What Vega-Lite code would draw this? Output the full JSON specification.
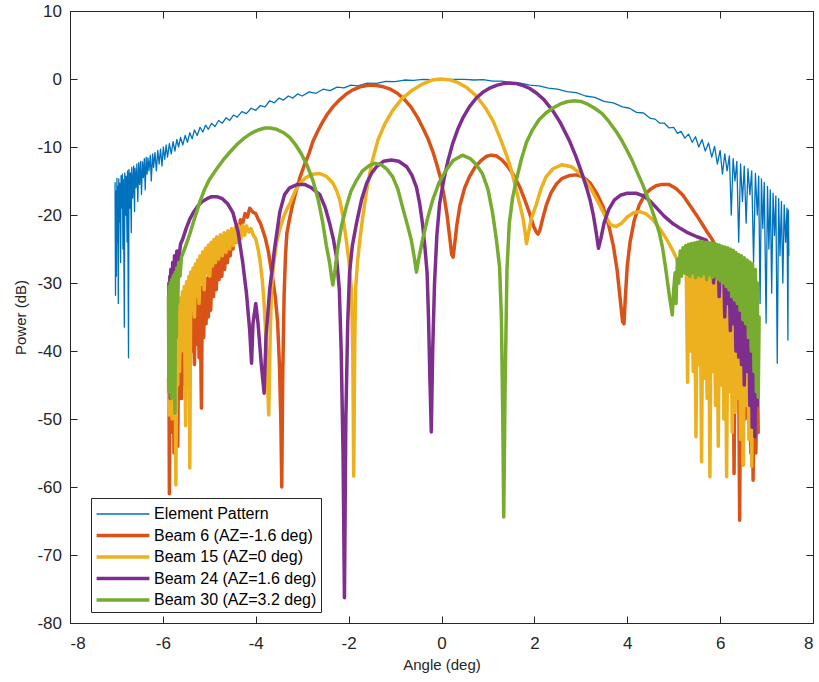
{
"$schema": "https://vega.github.io/schema/vega-lite/v6.json",
"width": 743, "height": 612,
"autosize": {"type": "none"},
"padding": {"left": 70, "top": 11, "right": 6, "bottom": 59},
"background": "white",
"config": {
  "font": "Liberation Sans",
  "view": {"stroke": "#262626", "strokeWidth": 1},
  "axis": {"grid": false, "domainColor": "#262626", "tickColor": "#262626", "labelColor": "#262626", "titleColor": "#262626", "labelFontSize": 17, "titleFontSize": 15, "titleFontWeight": "normal", "labelFont": "Liberation Sans", "titleFont": "Liberation Sans", "tickSize": -7, "domainWidth": 1, "tickWidth": 1},
  "legend": {"orient": "none", "legendX": 21, "legendY": 487, "strokeColor": "#262626", "fillColor": "white", "padding": 4, "labelFontSize": 16, "labelFont": "Liberation Sans", "labelColor": "#000000", "labelLimit": 400, "symbolType": "M-2.4,0H2.4", "symbolSize": 484, "symbolOffset": 15, "labelOffset": 18, "rowPadding": 0.5}
},
"data": {"values": [
{"s":"E","x":-7.03,"y":-15.2},{"s":"E","x":-7.02,"y":-31.8},{"s":"E","x":-7.01,"y":-16.5},{"s":"E","x":-7.0,"y":-29},{"s":"E","x":-6.99,"y":-14.6},{"s":"E","x":-6.98,"y":-24},{"s":"E","x":-6.97,"y":-15.8},{"s":"E","x":-6.96,"y":-33},{"s":"E","x":-6.95,"y":-14.7},{"s":"E","x":-6.94,"y":-21},{"s":"E","x":-6.93,"y":-15.3},{"s":"E","x":-6.91,"y":-27},{"s":"E","x":-6.9,"y":-14.2},{"s":"E","x":-6.89,"y":-19},{"s":"E","x":-6.87,"y":-14},{"s":"E","x":-6.86,"y":-25},{"s":"E","x":-6.85,"y":-14.8},{"s":"E","x":-6.83,"y":-36.5},{"s":"E","x":-6.82,"y":-13.8},{"s":"E","x":-6.8,"y":-20},{"s":"E","x":-6.79,"y":-14.3},{"s":"E","x":-6.77,"y":-24},{"s":"E","x":-6.76,"y":-13.5},{"s":"E","x":-6.74,"y":-41},{"s":"E","x":-6.73,"y":-13.3},{"s":"E","x":-6.71,"y":-19},{"s":"E","x":-6.7,"y":-13.8},{"s":"E","x":-6.68,"y":-22.6},{"s":"E","x":-6.67,"y":-13},{"s":"E","x":-6.65,"y":-17.5},{"s":"E","x":-6.63,"y":-12.8},{"s":"E","x":-6.61,"y":-19.5},{"s":"E","x":-6.6,"y":-13.1},{"s":"E","x":-6.58,"y":-16},{"s":"E","x":-6.56,"y":-12.5},{"s":"E","x":-6.54,"y":-18},{"s":"E","x":-6.52,"y":-12.3},{"s":"E","x":-6.5,"y":-15.5},{"s":"E","x":-6.48,"y":-12.1},{"s":"E","x":-6.46,"y":-17},{"s":"E","x":-6.44,"y":-12.2},{"s":"E","x":-6.42,"y":-14.5},{"s":"E","x":-6.4,"y":-11.7},{"s":"E","x":-6.38,"y":-16.3},{"s":"E","x":-6.36,"y":-11.5},{"s":"E","x":-6.34,"y":-14},{"s":"E","x":-6.32,"y":-11.6},{"s":"E","x":-6.3,"y":-13.5},{"s":"E","x":-6.27,"y":-11.2},{"s":"E","x":-6.25,"y":-15},{"s":"E","x":-6.22,"y":-11},{"s":"E","x":-6.2,"y":-13},{"s":"E","x":-6.17,"y":-10.8},{"s":"E","x":-6.14,"y":-13.5},{"s":"E","x":-6.11,"y":-10.5},{"s":"E","x":-6.08,"y":-12.5},{"s":"E","x":-6.05,"y":-10.3},{"s":"E","x":-6.02,"y":-12.8},{"s":"E","x":-5.99,"y":-10},{"s":"E","x":-5.96,"y":-11.8},{"s":"E","x":-5.93,"y":-9.7},{"s":"E","x":-5.9,"y":-11.5},{"s":"E","x":-5.86,"y":-9.5},{"s":"E","x":-5.82,"y":-11},{"s":"E","x":-5.78,"y":-9.2},{"s":"E","x":-5.74,"y":-10.6},{"s":"E","x":-5.7,"y":-8.9},{"s":"E","x":-5.66,"y":-10},{"s":"E","x":-5.62,"y":-8.6},{"s":"E","x":-5.57,"y":-9.7},{"s":"E","x":-5.52,"y":-8.3},{"s":"E","x":-5.47,"y":-9.3},{"s":"E","x":-5.42,"y":-7.9},{"s":"E","x":-5.37,"y":-8.8},{"s":"E","x":-5.32,"y":-7.5},{"s":"E","x":-5.26,"y":-8.3},{"s":"E","x":-5.2,"y":-7.1},{"s":"E","x":-5.14,"y":-7.8},{"s":"E","x":-5.08,"y":-6.8},{"s":"E","x":-5.02,"y":-7.4},{"s":"E","x":-4.95,"y":-6.5},{"s":"E","x":-4.88,"y":-7},{"s":"E","x":-4.8,"y":-6.1},{"s":"E","x":-4.72,"y":-6.5},{"s":"E","x":-4.64,"y":-5.7},{"s":"E","x":-4.56,"y":-6.1},{"s":"E","x":-4.48,"y":-5.3},{"s":"E","x":-4.4,"y":-5.6},{"s":"E","x":-4.3,"y":-4.8},{"s":"E","x":-4.2,"y":-5.1},{"s":"E","x":-4.1,"y":-4.3},{"s":"E","x":-4.0,"y":-4.6},{"s":"E","x":-3.9,"y":-3.9},{"s":"E","x":-3.8,"y":-4.1},{"s":"E","x":-3.7,"y":-3.2},{"s":"E","x":-3.6,"y":-3.5},{"s":"E","x":-3.5,"y":-2.8},{"s":"E","x":-3.4,"y":-3.1},{"s":"E","x":-3.3,"y":-2.5},{"s":"E","x":-3.2,"y":-2.8},{"s":"E","x":-3.1,"y":-2.2},{"s":"E","x":-3.0,"y":-2.5},{"s":"E","x":-2.85,"y":-1.9},{"s":"E","x":-2.7,"y":-2.1},{"s":"E","x":-2.55,"y":-1.5},{"s":"E","x":-2.4,"y":-1.7},{"s":"E","x":-2.25,"y":-1.2},{"s":"E","x":-2.1,"y":-1.3},{"s":"E","x":-1.95,"y":-0.9},{"s":"E","x":-1.8,"y":-1.0},{"s":"E","x":-1.6,"y":-0.6},{"s":"E","x":-1.4,"y":-0.65},{"s":"E","x":-1.2,"y":-0.35},{"s":"E","x":-1.0,"y":-0.4},{"s":"E","x":-0.8,"y":-0.15},{"s":"E","x":-0.6,"y":-0.2},{"s":"E","x":-0.4,"y":-0.05},{"s":"E","x":-0.2,"y":-0.1},{"s":"E","x":0,"y":0},{"s":"E","x":0.2,"y":-0.05},{"s":"E","x":0.35,"y":-0.05},{"s":"E","x":0.5,"y":-0.05},{"s":"E","x":0.7,"y":-0.15},{"s":"E","x":0.9,"y":-0.1},{"s":"E","x":1.1,"y":-0.3},{"s":"E","x":1.3,"y":-0.3},{"s":"E","x":1.5,"y":-0.55},{"s":"E","x":1.7,"y":-0.6},{"s":"E","x":1.9,"y":-0.9},{"s":"E","x":2.1,"y":-1.0},{"s":"E","x":2.3,"y":-1.35},{"s":"E","x":2.5,"y":-1.5},{"s":"E","x":2.7,"y":-1.85},{"s":"E","x":2.9,"y":-2.0},{"s":"E","x":3.1,"y":-2.5},{"s":"E","x":3.3,"y":-2.7},{"s":"E","x":3.5,"y":-3.3},{"s":"E","x":3.7,"y":-3.5},{"s":"E","x":3.9,"y":-4.1},{"s":"E","x":4.05,"y":-4.3},{"s":"E","x":4.2,"y":-4.9},{"s":"E","x":4.35,"y":-5.0},{"s":"E","x":4.5,"y":-5.8},{"s":"E","x":4.6,"y":-5.9},{"s":"E","x":4.7,"y":-6.5},{"s":"E","x":4.8,"y":-6.5},{"s":"E","x":4.9,"y":-7.2},{"s":"E","x":5.0,"y":-7.1},{"s":"E","x":5.08,"y":-8.0},{"s":"E","x":5.16,"y":-7.7},{"s":"E","x":5.24,"y":-8.7},{"s":"E","x":5.32,"y":-8.1},{"s":"E","x":5.4,"y":-9.3},{"s":"E","x":5.47,"y":-8.5},{"s":"E","x":5.54,"y":-10},{"s":"E","x":5.61,"y":-8.9},{"s":"E","x":5.68,"y":-10.6},{"s":"E","x":5.75,"y":-9.4},{"s":"E","x":5.82,"y":-11.5},{"s":"E","x":5.88,"y":-9.9},{"s":"E","x":5.94,"y":-12.5},{"s":"E","x":6.0,"y":-10.5},{"s":"E","x":6.05,"y":-14},{"s":"E","x":6.1,"y":-11},{"s":"E","x":6.15,"y":-13.5},{"s":"E","x":6.2,"y":-11.3},{"s":"E","x":6.24,"y":-20},{"s":"E","x":6.28,"y":-11.7},{"s":"E","x":6.32,"y":-15},{"s":"E","x":6.36,"y":-12.1},{"s":"E","x":6.4,"y":-24},{"s":"E","x":6.44,"y":-12.5},{"s":"E","x":6.48,"y":-18},{"s":"E","x":6.52,"y":-12.8},{"s":"E","x":6.56,"y":-21.2},{"s":"E","x":6.6,"y":-13.2},{"s":"E","x":6.64,"y":-17},{"s":"E","x":6.68,"y":-13.5},{"s":"E","x":6.72,"y":-27},{"s":"E","x":6.76,"y":-13.9},{"s":"E","x":6.8,"y":-20},{"s":"E","x":6.83,"y":-14.3},{"s":"E","x":6.86,"y":-33},{"s":"E","x":6.89,"y":-14.7},{"s":"E","x":6.92,"y":-22},{"s":"E","x":6.95,"y":-15.2},{"s":"E","x":6.99,"y":-35.9},{"s":"E","x":7.02,"y":-15.8},{"s":"E","x":7.05,"y":-25},{"s":"E","x":7.08,"y":-16.3},{"s":"E","x":7.11,"y":-31.5},{"s":"E","x":7.14,"y":-16.8},{"s":"E","x":7.17,"y":-23},{"s":"E","x":7.2,"y":-17.2},{"s":"E","x":7.23,"y":-41.8},{"s":"E","x":7.26,"y":-17.6},{"s":"E","x":7.29,"y":-26},{"s":"E","x":7.32,"y":-18},{"s":"E","x":7.35,"y":-30},{"s":"E","x":7.38,"y":-18.5},{"s":"E","x":7.41,"y":-24},{"s":"E","x":7.44,"y":-19},{"s":"E","x":7.46,"y":-38.4},{"s":"E","x":7.47,"y":-19.3},{"s":"E","x":7.48,"y":-26},

{"s":"B6","x":-5.87,"y":-42},{"s":"B6","x":-5.86,"y":-61},{"s":"B6","x":-5.85,"y":-41},{"s":"B6","x":-5.83,"y":-52},{"s":"B6","x":-5.82,"y":-40.5},{"s":"B6","x":-5.8,"y":-46},{"s":"B6","x":-5.78,"y":-40},{"s":"B6","x":-5.76,"y":-55},{"s":"B6","x":-5.74,"y":-39.5},{"s":"B6","x":-5.72,"y":-45},{"s":"B6","x":-5.7,"y":-39},{"s":"B6","x":-5.68,"y":-54},{"s":"B6","x":-5.66,"y":-38.5},{"s":"B6","x":-5.64,"y":-44},{"s":"B6","x":-5.62,"y":-38},{"s":"B6","x":-5.6,"y":-47},{"s":"B6","x":-5.58,"y":-37.5},{"s":"B6","x":-5.56,"y":-43},{"s":"B6","x":-5.54,"y":-36.5},{"s":"B6","x":-5.52,"y":-45},{"s":"B6","x":-5.5,"y":-35.5},{"s":"B6","x":-5.47,"y":-41},{"s":"B6","x":-5.45,"y":-34.5},{"s":"B6","x":-5.42,"y":-44},{"s":"B6","x":-5.4,"y":-33.5},{"s":"B6","x":-5.37,"y":-40},{"s":"B6","x":-5.35,"y":-33},{"s":"B6","x":-5.32,"y":-42},{"s":"B6","x":-5.3,"y":-32.5},{"s":"B6","x":-5.27,"y":-39},{"s":"B6","x":-5.25,"y":-32},{"s":"B6","x":-5.22,"y":-41},{"s":"B6","x":-5.2,"y":-31.3},{"s":"B6","x":-5.17,"y":-48.4},{"s":"B6","x":-5.15,"y":-30.6},{"s":"B6","x":-5.12,"y":-38},{"s":"B6","x":-5.1,"y":-30},{"s":"B6","x":-5.07,"y":-36},{"s":"B6","x":-5.05,"y":-29.3},{"s":"B6","x":-5.02,"y":-35},{"s":"B6","x":-5.0,"y":-28.5},{"s":"B6","x":-4.97,"y":-34},{"s":"B6","x":-4.94,"y":-27.5},{"s":"B6","x":-4.91,"y":-32},{"s":"B6","x":-4.88,"y":-26.8},{"s":"B6","x":-4.85,"y":-31},{"s":"B6","x":-4.82,"y":-26},{"s":"B6","x":-4.79,"y":-29.5},{"s":"B6","x":-4.76,"y":-25.3},{"s":"B6","x":-4.73,"y":-29},{"s":"B6","x":-4.7,"y":-24.8},{"s":"B6","x":-4.67,"y":-28},{"s":"B6","x":-4.64,"y":-24.3},{"s":"B6","x":-4.61,"y":-27},{"s":"B6","x":-4.58,"y":-23.8},{"s":"B6","x":-4.55,"y":-26},{"s":"B6","x":-4.52,"y":-23.2},{"s":"B6","x":-4.49,"y":-25},{"s":"B6","x":-4.46,"y":-22.4},{"s":"B6","x":-4.43,"y":-24},{"s":"B6","x":-4.4,"y":-21.5},{"s":"B6","x":-4.36,"y":-22.5},{"s":"B6","x":-4.33,"y":-20.7},{"s":"B6","x":-4.28,"y":-21.2},{"s":"B6","x":-4.23,"y":-19.8},{"s":"B6","x":-4.18,"y":-20.3},{"s":"B6","x":-4.13,"y":-19},{"s":"B6","x":-4.06,"y":-19.6},{"s":"B6","x":-4.0,"y":-19.8},{"s":"B6","x":-3.95,"y":-20.6},{"s":"B6","x":-3.9,"y":-21.2},{"s":"B6","x":-3.85,"y":-22.2},{"s":"B6","x":-3.79,"y":-23.5},{"s":"B6","x":-3.73,"y":-25.3},{"s":"B6","x":-3.68,"y":-27.5},{"s":"B6","x":-3.63,"y":-29.6},{"s":"B6","x":-3.58,"y":-32},{"s":"B6","x":-3.53,"y":-35.7},{"s":"B6","x":-3.49,"y":-42},{"s":"B6","x":-3.46,"y":-50},{"s":"B6","x":-3.44,"y":-60},{"s":"B6","x":-3.42,"y":-44},{"s":"B6","x":-3.39,"y":-32},{"s":"B6","x":-3.36,"y":-26},{"s":"B6","x":-3.33,"y":-22.7},{"s":"B6","x":-3.27,"y":-20.5},{"s":"B6","x":-3.2,"y":-18.3},{"s":"B6","x":-3.12,"y":-16.2},{"s":"B6","x":-3.05,"y":-14.5},{"s":"B6","x":-2.95,"y":-12.6},{"s":"B6","x":-2.85,"y":-10.9},{"s":"B6","x":-2.77,"y":-9.2},{"s":"B6","x":-2.66,"y":-7.6},{"s":"B6","x":-2.55,"y":-6.2},{"s":"B6","x":-2.45,"y":-5.1},{"s":"B6","x":-2.34,"y":-4.1},{"s":"B6","x":-2.2,"y":-3.1},{"s":"B6","x":-2.05,"y":-2.2},{"s":"B6","x":-1.91,"y":-1.6},{"s":"B6","x":-1.75,"y":-1.15},{"s":"B6","x":-1.6,"y":-0.95},{"s":"B6","x":-1.5,"y":-0.9},{"s":"B6","x":-1.4,"y":-0.95},{"s":"B6","x":-1.25,"y":-1.15},{"s":"B6","x":-1.1,"y":-1.5},{"s":"B6","x":-0.95,"y":-2.1},{"s":"B6","x":-0.8,"y":-3.0},{"s":"B6","x":-0.66,"y":-4.1},{"s":"B6","x":-0.52,"y":-5.6},{"s":"B6","x":-0.4,"y":-7.2},{"s":"B6","x":-0.29,"y":-8.8},{"s":"B6","x":-0.19,"y":-10.6},{"s":"B6","x":-0.1,"y":-12.6},{"s":"B6","x":-0.02,"y":-14.6},{"s":"B6","x":0.05,"y":-17},{"s":"B6","x":0.12,"y":-20},{"s":"B6","x":0.18,"y":-23.5},{"s":"B6","x":0.22,"y":-25.8},{"s":"B6","x":0.25,"y":-26.2},{"s":"B6","x":0.28,"y":-24.5},{"s":"B6","x":0.33,"y":-21.5},{"s":"B6","x":0.4,"y":-18.5},{"s":"B6","x":0.5,"y":-16},{"s":"B6","x":0.6,"y":-14.4},{"s":"B6","x":0.72,"y":-13},{"s":"B6","x":0.85,"y":-12},{"s":"B6","x":0.96,"y":-11.4},{"s":"B6","x":1.07,"y":-11.2},{"s":"B6","x":1.18,"y":-11.3},{"s":"B6","x":1.3,"y":-11.9},{"s":"B6","x":1.42,"y":-12.8},{"s":"B6","x":1.55,"y":-14.1},{"s":"B6","x":1.68,"y":-15.8},{"s":"B6","x":1.8,"y":-17.9},{"s":"B6","x":1.9,"y":-19.8},{"s":"B6","x":1.98,"y":-21.6},{"s":"B6","x":2.04,"y":-22.5},{"s":"B6","x":2.08,"y":-22.8},{"s":"B6","x":2.12,"y":-22.2},{"s":"B6","x":2.18,"y":-20.5},{"s":"B6","x":2.26,"y":-18.5},{"s":"B6","x":2.36,"y":-16.7},{"s":"B6","x":2.48,"y":-15.4},{"s":"B6","x":2.6,"y":-14.6},{"s":"B6","x":2.75,"y":-14.2},{"s":"B6","x":2.9,"y":-14.1},{"s":"B6","x":3.05,"y":-14.4},{"s":"B6","x":3.2,"y":-15.3},{"s":"B6","x":3.35,"y":-16.9},{"s":"B6","x":3.48,"y":-18.8},{"s":"B6","x":3.6,"y":-21.5},{"s":"B6","x":3.7,"y":-24.5},{"s":"B6","x":3.78,"y":-28},{"s":"B6","x":3.85,"y":-32.5},{"s":"B6","x":3.9,"y":-35.7},{"s":"B6","x":3.93,"y":-36},{"s":"B6","x":3.96,"y":-32},{"s":"B6","x":4.0,"y":-27.5},{"s":"B6","x":4.06,"y":-24},{"s":"B6","x":4.15,"y":-20.8},{"s":"B6","x":4.26,"y":-18.5},{"s":"B6","x":4.38,"y":-17},{"s":"B6","x":4.5,"y":-16.2},{"s":"B6","x":4.62,"y":-15.7},{"s":"B6","x":4.75,"y":-15.5},{"s":"B6","x":4.9,"y":-15.5},{"s":"B6","x":5.05,"y":-16.1},{"s":"B6","x":5.2,"y":-17.1},{"s":"B6","x":5.35,"y":-18.6},{"s":"B6","x":5.5,"y":-20.1},{"s":"B6","x":5.62,"y":-21.4},{"s":"B6","x":5.72,"y":-22.5},{"s":"B6","x":5.82,"y":-23.5},{"s":"B6","x":5.9,"y":-24.5},{"s":"B6","x":5.94,"y":-28},{"s":"B6","x":5.97,"y":-25.5},{"s":"B6","x":6.0,"y":-33},{"s":"B6","x":6.03,"y":-26.5},{"s":"B6","x":6.06,"y":-30},{"s":"B6","x":6.09,"y":-27},{"s":"B6","x":6.12,"y":-36},{"s":"B6","x":6.15,"y":-28},{"s":"B6","x":6.18,"y":-40},{"s":"B6","x":6.21,"y":-29},{"s":"B6","x":6.24,"y":-35},{"s":"B6","x":6.27,"y":-29.5},{"s":"B6","x":6.3,"y":-58},{"s":"B6","x":6.33,"y":-30.5},{"s":"B6","x":6.36,"y":-40},{"s":"B6","x":6.39,"y":-31},{"s":"B6","x":6.42,"y":-64.9},{"s":"B6","x":6.45,"y":-32},{"s":"B6","x":6.48,"y":-45},{"s":"B6","x":6.51,"y":-33},{"s":"B6","x":6.54,"y":-50},{"s":"B6","x":6.57,"y":-34},{"s":"B6","x":6.6,"y":-46},{"s":"B6","x":6.63,"y":-35},{"s":"B6","x":6.66,"y":-55},{"s":"B6","x":6.69,"y":-36},{"s":"B6","x":6.71,"y":-59},{"s":"B6","x":6.74,"y":-38},{"s":"B6","x":6.77,"y":-55},{"s":"B6","x":6.8,"y":-40},{"s":"B6","x":6.82,"y":-52},

{"s":"B15","x":-5.88,"y":-44},{"s":"B15","x":-5.87,"y":-49.4},{"s":"B15","x":-5.86,"y":-42},{"s":"B15","x":-5.84,"y":-47},{"s":"B15","x":-5.82,"y":-40},{"s":"B15","x":-5.8,"y":-50},{"s":"B15","x":-5.78,"y":-38},{"s":"B15","x":-5.76,"y":-46},{"s":"B15","x":-5.74,"y":-36.5},{"s":"B15","x":-5.72,"y":-59.7},{"s":"B15","x":-5.7,"y":-35},{"s":"B15","x":-5.68,"y":-45},{"s":"B15","x":-5.66,"y":-33.5},{"s":"B15","x":-5.64,"y":-43},{"s":"B15","x":-5.62,"y":-32.2},{"s":"B15","x":-5.6,"y":-40},{"s":"B15","x":-5.58,"y":-31.3},{"s":"B15","x":-5.56,"y":-38},{"s":"B15","x":-5.54,"y":-30.5},{"s":"B15","x":-5.51,"y":-51},{"s":"B15","x":-5.49,"y":-29.8},{"s":"B15","x":-5.46,"y":-36},{"s":"B15","x":-5.44,"y":-29},{"s":"B15","x":-5.42,"y":-57.2},{"s":"B15","x":-5.4,"y":-28.4},{"s":"B15","x":-5.37,"y":-34},{"s":"B15","x":-5.35,"y":-27.8},{"s":"B15","x":-5.32,"y":-35},{"s":"B15","x":-5.3,"y":-27.2},{"s":"B15","x":-5.27,"y":-32},{"s":"B15","x":-5.25,"y":-26.6},{"s":"B15","x":-5.22,"y":-33},{"s":"B15","x":-5.2,"y":-26},{"s":"B15","x":-5.17,"y":-30},{"s":"B15","x":-5.14,"y":-25.4},{"s":"B15","x":-5.11,"y":-31},{"s":"B15","x":-5.08,"y":-24.9},{"s":"B15","x":-5.05,"y":-28.5},{"s":"B15","x":-5.02,"y":-24.4},{"s":"B15","x":-4.99,"y":-29},{"s":"B15","x":-4.96,"y":-24},{"s":"B15","x":-4.93,"y":-27.5},{"s":"B15","x":-4.9,"y":-23.6},{"s":"B15","x":-4.87,"y":-27},{"s":"B15","x":-4.84,"y":-23.2},{"s":"B15","x":-4.8,"y":-26.5},{"s":"B15","x":-4.76,"y":-22.9},{"s":"B15","x":-4.72,"y":-26},{"s":"B15","x":-4.68,"y":-22.6},{"s":"B15","x":-4.64,"y":-25.5},{"s":"B15","x":-4.6,"y":-22.3},{"s":"B15","x":-4.56,"y":-25},{"s":"B15","x":-4.52,"y":-22},{"s":"B15","x":-4.48,"y":-24.5},{"s":"B15","x":-4.44,"y":-21.8},{"s":"B15","x":-4.4,"y":-24},{"s":"B15","x":-4.36,"y":-21.6},{"s":"B15","x":-4.32,"y":-23.5},{"s":"B15","x":-4.28,"y":-21.5},{"s":"B15","x":-4.24,"y":-23},{"s":"B15","x":-4.2,"y":-21.6},{"s":"B15","x":-4.15,"y":-22.5},{"s":"B15","x":-4.1,"y":-22},{"s":"B15","x":-4.05,"y":-23},{"s":"B15","x":-4.0,"y":-23.5},{"s":"B15","x":-3.95,"y":-25},{"s":"B15","x":-3.91,"y":-26.6},{"s":"B15","x":-3.86,"y":-29.5},{"s":"B15","x":-3.82,"y":-33},{"s":"B15","x":-3.78,"y":-38},{"s":"B15","x":-3.75,"y":-44},{"s":"B15","x":-3.72,"y":-49.4},{"s":"B15","x":-3.69,"y":-38},{"s":"B15","x":-3.66,"y":-31},{"s":"B15","x":-3.62,"y":-27.5},{"s":"B15","x":-3.55,"y":-24},{"s":"B15","x":-3.48,"y":-22},{"s":"B15","x":-3.4,"y":-20.3},{"s":"B15","x":-3.32,"y":-19},{"s":"B15","x":-3.27,"y":-18.4},{"s":"B15","x":-3.16,"y":-16.6},{"s":"B15","x":-3.05,"y":-15.3},{"s":"B15","x":-2.92,"y":-14.5},{"s":"B15","x":-2.78,"y":-14.0},{"s":"B15","x":-2.62,"y":-13.9},{"s":"B15","x":-2.48,"y":-14.3},{"s":"B15","x":-2.34,"y":-15.3},{"s":"B15","x":-2.26,"y":-16.4},{"s":"B15","x":-2.19,"y":-17.8},{"s":"B15","x":-2.12,"y":-20.3},{"s":"B15","x":-2.05,"y":-23.7},{"s":"B15","x":-1.99,"y":-27},{"s":"B15","x":-1.94,"y":-31},{"s":"B15","x":-1.91,"y":-40},{"s":"B15","x":-1.89,"y":-58.4},{"s":"B15","x":-1.87,"y":-40},{"s":"B15","x":-1.85,"y":-31},{"s":"B15","x":-1.81,"y":-27},{"s":"B15","x":-1.76,"y":-23.7},{"s":"B15","x":-1.69,"y":-20},{"s":"B15","x":-1.61,"y":-16.3},{"s":"B15","x":-1.5,"y":-12.3},{"s":"B15","x":-1.37,"y":-9.0},{"s":"B15","x":-1.22,"y":-6.6},{"s":"B15","x":-1.05,"y":-4.6},{"s":"B15","x":-0.85,"y":-2.9},{"s":"B15","x":-0.62,"y":-1.6},{"s":"B15","x":-0.4,"y":-0.7},{"s":"B15","x":-0.2,"y":-0.15},{"s":"B15","x":-0.02,"y":0},{"s":"B15","x":0.15,"y":-0.1},{"s":"B15","x":0.35,"y":-0.5},{"s":"B15","x":0.55,"y":-1.3},{"s":"B15","x":0.75,"y":-2.5},{"s":"B15","x":0.95,"y":-4.3},{"s":"B15","x":1.12,"y":-6.3},{"s":"B15","x":1.28,"y":-9.0},{"s":"B15","x":1.4,"y":-11.2},{"s":"B15","x":1.5,"y":-13.3},{"s":"B15","x":1.61,"y":-16.3},{"s":"B15","x":1.68,"y":-18.3},{"s":"B15","x":1.75,"y":-20.3},{"s":"B15","x":1.79,"y":-22},{"s":"B15","x":1.83,"y":-24.2},{"s":"B15","x":1.87,"y":-22.8},{"s":"B15","x":1.93,"y":-20.6},{"s":"B15","x":2.04,"y":-18.5},{"s":"B15","x":2.14,"y":-16.2},{"s":"B15","x":2.25,"y":-14.4},{"s":"B15","x":2.4,"y":-13.2},{"s":"B15","x":2.6,"y":-12.6},{"s":"B15","x":2.8,"y":-12.9},{"s":"B15","x":3.0,"y":-14.0},{"s":"B15","x":3.2,"y":-15.9},{"s":"B15","x":3.38,"y":-18.2},{"s":"B15","x":3.52,"y":-20.1},{"s":"B15","x":3.64,"y":-21.4},{"s":"B15","x":3.76,"y":-21.7},{"s":"B15","x":3.88,"y":-21.2},{"s":"B15","x":4.0,"y":-20.3},{"s":"B15","x":4.13,"y":-19.7},{"s":"B15","x":4.26,"y":-19.5},{"s":"B15","x":4.4,"y":-19.8},{"s":"B15","x":4.55,"y":-20.7},{"s":"B15","x":4.7,"y":-22},{"s":"B15","x":4.85,"y":-23.6},{"s":"B15","x":4.97,"y":-25.1},{"s":"B15","x":5.05,"y":-26.2},{"s":"B15","x":5.12,"y":-27.2},{"s":"B15","x":5.2,"y":-27.8},{"s":"B15","x":5.27,"y":-28.2},{"s":"B15","x":5.3,"y":-44.6},{"s":"B15","x":5.33,"y":-28.3},{"s":"B15","x":5.36,"y":-40},{"s":"B15","x":5.39,"y":-28},{"s":"B15","x":5.42,"y":-43},{"s":"B15","x":5.45,"y":-27.8},{"s":"B15","x":5.48,"y":-52.6},{"s":"B15","x":5.51,"y":-27.7},{"s":"B15","x":5.54,"y":-42},{"s":"B15","x":5.57,"y":-27.8},{"s":"B15","x":5.6,"y":-56.3},{"s":"B15","x":5.63,"y":-28},{"s":"B15","x":5.66,"y":-44},{"s":"B15","x":5.69,"y":-28.2},{"s":"B15","x":5.72,"y":-47},{"s":"B15","x":5.75,"y":-28.4},{"s":"B15","x":5.78,"y":-58.5},{"s":"B15","x":5.81,"y":-28.6},{"s":"B15","x":5.84,"y":-43},{"s":"B15","x":5.87,"y":-28.8},{"s":"B15","x":5.9,"y":-48},{"s":"B15","x":5.93,"y":-29},{"s":"B15","x":5.96,"y":-54},{"s":"B15","x":5.99,"y":-29.2},{"s":"B15","x":6.02,"y":-45},{"s":"B15","x":6.05,"y":-29.4},{"s":"B15","x":6.08,"y":-50},{"s":"B15","x":6.11,"y":-29.6},{"s":"B15","x":6.14,"y":-58.5},{"s":"B15","x":6.17,"y":-30},{"s":"B15","x":6.2,"y":-46},{"s":"B15","x":6.23,"y":-30.5},{"s":"B15","x":6.26,"y":-52},{"s":"B15","x":6.29,"y":-31},{"s":"B15","x":6.32,"y":-49},{"s":"B15","x":6.35,"y":-31.5},{"s":"B15","x":6.38,"y":-47},{"s":"B15","x":6.41,"y":-32},{"s":"B15","x":6.44,"y":-53},{"s":"B15","x":6.47,"y":-32.5},{"s":"B15","x":6.5,"y":-56.8},{"s":"B15","x":6.53,"y":-33},{"s":"B15","x":6.56,"y":-48},{"s":"B15","x":6.59,"y":-34},{"s":"B15","x":6.62,"y":-53},{"s":"B15","x":6.65,"y":-35},{"s":"B15","x":6.68,"y":-57},{"s":"B15","x":6.71,"y":-36},{"s":"B15","x":6.74,"y":-50},{"s":"B15","x":6.77,"y":-38},{"s":"B15","x":6.8,"y":-46},{"s":"B15","x":6.82,"y":-40},

{"s":"B24","x":-5.87,"y":-30},{"s":"B24","x":-5.86,"y":-44},{"s":"B24","x":-5.85,"y":-29},{"s":"B24","x":-5.84,"y":-47},{"s":"B24","x":-5.83,"y":-28},{"s":"B24","x":-5.81,"y":-38},{"s":"B24","x":-5.79,"y":-27},{"s":"B24","x":-5.77,"y":-33},{"s":"B24","x":-5.75,"y":-26},{"s":"B24","x":-5.72,"y":-29},{"s":"B24","x":-5.7,"y":-25.3},{"s":"B24","x":-5.66,"y":-26.5},{"s":"B24","x":-5.62,"y":-24.3},{"s":"B24","x":-5.57,"y":-23.5},{"s":"B24","x":-5.5,"y":-22},{"s":"B24","x":-5.42,"y":-20.6},{"s":"B24","x":-5.35,"y":-19.7},{"s":"B24","x":-5.25,"y":-18.7},{"s":"B24","x":-5.15,"y":-18.0},{"s":"B24","x":-5.05,"y":-17.6},{"s":"B24","x":-4.95,"y":-17.3},{"s":"B24","x":-4.84,"y":-17.3},{"s":"B24","x":-4.72,"y":-17.6},{"s":"B24","x":-4.6,"y":-18.4},{"s":"B24","x":-4.49,"y":-19.7},{"s":"B24","x":-4.38,"y":-22.5},{"s":"B24","x":-4.28,"y":-27},{"s":"B24","x":-4.2,"y":-31.5},{"s":"B24","x":-4.13,"y":-37},{"s":"B24","x":-4.09,"y":-41.8},{"s":"B24","x":-4.06,"y":-36},{"s":"B24","x":-4.0,"y":-33},{"s":"B24","x":-3.95,"y":-36},{"s":"B24","x":-3.88,"y":-42},{"s":"B24","x":-3.82,"y":-46.2},{"s":"B24","x":-3.78,"y":-38},{"s":"B24","x":-3.7,"y":-31},{"s":"B24","x":-3.59,"y":-24.7},{"s":"B24","x":-3.48,"y":-19.5},{"s":"B24","x":-3.38,"y":-17},{"s":"B24","x":-3.27,"y":-16},{"s":"B24","x":-3.1,"y":-15.5},{"s":"B24","x":-2.95,"y":-15.5},{"s":"B24","x":-2.8,"y":-16},{"s":"B24","x":-2.62,"y":-17},{"s":"B24","x":-2.5,"y":-19},{"s":"B24","x":-2.41,"y":-21.2},{"s":"B24","x":-2.33,"y":-23.5},{"s":"B24","x":-2.26,"y":-26.2},{"s":"B24","x":-2.2,"y":-31},{"s":"B24","x":-2.16,"y":-40},{"s":"B24","x":-2.12,"y":-55},{"s":"B24","x":-2.09,"y":-76.3},{"s":"B24","x":-2.06,"y":-50},{"s":"B24","x":-2.02,"y":-36},{"s":"B24","x":-1.98,"y":-28.5},{"s":"B24","x":-1.92,"y":-24.5},{"s":"B24","x":-1.83,"y":-21.2},{"s":"B24","x":-1.72,"y":-17.7},{"s":"B24","x":-1.61,"y":-15.3},{"s":"B24","x":-1.5,"y":-13.8},{"s":"B24","x":-1.4,"y":-12.9},{"s":"B24","x":-1.25,"y":-12.1},{"s":"B24","x":-1.08,"y":-11.9},{"s":"B24","x":-0.92,"y":-12.1},{"s":"B24","x":-0.75,"y":-12.9},{"s":"B24","x":-0.64,"y":-14.1},{"s":"B24","x":-0.54,"y":-15.9},{"s":"B24","x":-0.47,"y":-18.3},{"s":"B24","x":-0.41,"y":-21.2},{"s":"B24","x":-0.36,"y":-24.5},{"s":"B24","x":-0.31,"y":-28.5},{"s":"B24","x":-0.28,"y":-35},{"s":"B24","x":-0.25,"y":-44},{"s":"B24","x":-0.22,"y":-51.9},{"s":"B24","x":-0.19,"y":-40},{"s":"B24","x":-0.15,"y":-30},{"s":"B24","x":-0.1,"y":-23},{"s":"B24","x":-0.04,"y":-18.3},{"s":"B24","x":0.05,"y":-14.8},{"s":"B24","x":0.14,"y":-12},{"s":"B24","x":0.24,"y":-9.5},{"s":"B24","x":0.35,"y":-7.4},{"s":"B24","x":0.47,"y":-5.6},{"s":"B24","x":0.6,"y":-4.1},{"s":"B24","x":0.75,"y":-2.8},{"s":"B24","x":0.9,"y":-1.9},{"s":"B24","x":1.05,"y":-1.3},{"s":"B24","x":1.2,"y":-0.9},{"s":"B24","x":1.35,"y":-0.65},{"s":"B24","x":1.46,"y":-0.6},{"s":"B24","x":1.6,"y":-0.65},{"s":"B24","x":1.75,"y":-0.95},{"s":"B24","x":1.9,"y":-1.4},{"s":"B24","x":2.05,"y":-2.1},{"s":"B24","x":2.2,"y":-3.0},{"s":"B24","x":2.39,"y":-4.6},{"s":"B24","x":2.55,"y":-6.3},{"s":"B24","x":2.75,"y":-9.0},{"s":"B24","x":2.9,"y":-11.5},{"s":"B24","x":3.02,"y":-13.8},{"s":"B24","x":3.12,"y":-15.9},{"s":"B24","x":3.2,"y":-17.8},{"s":"B24","x":3.27,"y":-20},{"s":"B24","x":3.33,"y":-22.5},{"s":"B24","x":3.38,"y":-24.9},{"s":"B24","x":3.43,"y":-23.5},{"s":"B24","x":3.5,"y":-21.2},{"s":"B24","x":3.6,"y":-19.2},{"s":"B24","x":3.72,"y":-17.8},{"s":"B24","x":3.85,"y":-17.1},{"s":"B24","x":4.0,"y":-16.8},{"s":"B24","x":4.19,"y":-16.8},{"s":"B24","x":4.35,"y":-17.2},{"s":"B24","x":4.5,"y":-18},{"s":"B24","x":4.65,"y":-19.1},{"s":"B24","x":4.8,"y":-20.2},{"s":"B24","x":4.97,"y":-21.2},{"s":"B24","x":5.15,"y":-22},{"s":"B24","x":5.3,"y":-22.6},{"s":"B24","x":5.5,"y":-23.2},{"s":"B24","x":5.7,"y":-23.7},{"s":"B24","x":5.76,"y":-24.5},{"s":"B24","x":5.8,"y":-27},{"s":"B24","x":5.83,"y":-24.6},{"s":"B24","x":5.86,"y":-30},{"s":"B24","x":5.89,"y":-24.8},{"s":"B24","x":5.92,"y":-28},{"s":"B24","x":5.95,"y":-25},{"s":"B24","x":5.98,"y":-32},{"s":"B24","x":6.01,"y":-25.5},{"s":"B24","x":6.04,"y":-29.5},{"s":"B24","x":6.07,"y":-26},{"s":"B24","x":6.1,"y":-35},{"s":"B24","x":6.13,"y":-26.5},{"s":"B24","x":6.16,"y":-33},{"s":"B24","x":6.19,"y":-27},{"s":"B24","x":6.22,"y":-37},{"s":"B24","x":6.25,"y":-27.5},{"s":"B24","x":6.28,"y":-36},{"s":"B24","x":6.31,"y":-28},{"s":"B24","x":6.34,"y":-40},{"s":"B24","x":6.37,"y":-28.5},{"s":"B24","x":6.4,"y":-40.9},{"s":"B24","x":6.43,"y":-29},{"s":"B24","x":6.46,"y":-42},{"s":"B24","x":6.49,"y":-29.5},{"s":"B24","x":6.52,"y":-45},{"s":"B24","x":6.55,"y":-30},{"s":"B24","x":6.58,"y":-43},{"s":"B24","x":6.61,"y":-31},{"s":"B24","x":6.64,"y":-48},{"s":"B24","x":6.67,"y":-32},{"s":"B24","x":6.69,"y":-51.2},{"s":"B24","x":6.72,"y":-33},{"s":"B24","x":6.75,"y":-52.6},{"s":"B24","x":6.78,"y":-35},{"s":"B24","x":6.8,"y":-48},{"s":"B24","x":6.82,"y":-40},

{"s":"B30","x":-5.88,"y":-32},{"s":"B30","x":-5.87,"y":-46},{"s":"B30","x":-5.86,"y":-30.5},{"s":"B30","x":-5.85,"y":-44},{"s":"B30","x":-5.84,"y":-30},{"s":"B30","x":-5.82,"y":-47},{"s":"B30","x":-5.81,"y":-29.5},{"s":"B30","x":-5.79,"y":-42},{"s":"B30","x":-5.78,"y":-29},{"s":"B30","x":-5.76,"y":-45},{"s":"B30","x":-5.75,"y":-28.7},{"s":"B30","x":-5.74,"y":-49.1},{"s":"B30","x":-5.73,"y":-28.4},{"s":"B30","x":-5.71,"y":-38},{"s":"B30","x":-5.7,"y":-27.8},{"s":"B30","x":-5.68,"y":-33},{"s":"B30","x":-5.66,"y":-27},{"s":"B30","x":-5.63,"y":-29},{"s":"B30","x":-5.6,"y":-26.2},{"s":"B30","x":-5.55,"y":-25.3},{"s":"B30","x":-5.48,"y":-24},{"s":"B30","x":-5.42,"y":-22.8},{"s":"B30","x":-5.35,"y":-21.2},{"s":"B30","x":-5.27,"y":-19.5},{"s":"B30","x":-5.2,"y":-18},{"s":"B30","x":-5.1,"y":-16.2},{"s":"B30","x":-5.0,"y":-14.8},{"s":"B30","x":-4.84,"y":-13.2},{"s":"B30","x":-4.7,"y":-11.9},{"s":"B30","x":-4.55,"y":-10.7},{"s":"B30","x":-4.4,"y":-9.6},{"s":"B30","x":-4.25,"y":-8.7},{"s":"B30","x":-4.1,"y":-8.0},{"s":"B30","x":-3.95,"y":-7.5},{"s":"B30","x":-3.8,"y":-7.2},{"s":"B30","x":-3.7,"y":-7.2},{"s":"B30","x":-3.55,"y":-7.4},{"s":"B30","x":-3.4,"y":-7.9},{"s":"B30","x":-3.27,"y":-8.6},{"s":"B30","x":-3.15,"y":-9.6},{"s":"B30","x":-3.02,"y":-11.0},{"s":"B30","x":-2.9,"y":-12.6},{"s":"B30","x":-2.77,"y":-14.9},{"s":"B30","x":-2.66,"y":-17.6},{"s":"B30","x":-2.56,"y":-21},{"s":"B30","x":-2.48,"y":-24.5},{"s":"B30","x":-2.41,"y":-27},{"s":"B30","x":-2.37,"y":-29},{"s":"B30","x":-2.34,"y":-30.3},{"s":"B30","x":-2.3,"y":-28.5},{"s":"B30","x":-2.24,"y":-25.1},{"s":"B30","x":-2.15,"y":-21.5},{"s":"B30","x":-2.05,"y":-18.8},{"s":"B30","x":-1.95,"y":-16.5},{"s":"B30","x":-1.83,"y":-14.9},{"s":"B30","x":-1.7,"y":-13.5},{"s":"B30","x":-1.55,"y":-12.7},{"s":"B30","x":-1.44,"y":-12.4},{"s":"B30","x":-1.3,"y":-12.6},{"s":"B30","x":-1.17,"y":-13.3},{"s":"B30","x":-1.05,"y":-14.4},{"s":"B30","x":-0.94,"y":-16.2},{"s":"B30","x":-0.84,"y":-18.8},{"s":"B30","x":-0.74,"y":-21.3},{"s":"B30","x":-0.65,"y":-23.7},{"s":"B30","x":-0.58,"y":-26.5},{"s":"B30","x":-0.54,"y":-28.4},{"s":"B30","x":-0.5,"y":-26.8},{"s":"B30","x":-0.41,"y":-23.7},{"s":"B30","x":-0.3,"y":-20.5},{"s":"B30","x":-0.19,"y":-17.8},{"s":"B30","x":-0.05,"y":-15.2},{"s":"B30","x":0.1,"y":-13.4},{"s":"B30","x":0.25,"y":-12},{"s":"B30","x":0.45,"y":-11.2},{"s":"B30","x":0.62,"y":-11.7},{"s":"B30","x":0.75,"y":-12.6},{"s":"B30","x":0.88,"y":-13.9},{"s":"B30","x":1.0,"y":-16.2},{"s":"B30","x":1.1,"y":-19.7},{"s":"B30","x":1.18,"y":-23.5},{"s":"B30","x":1.25,"y":-27.6},{"s":"B30","x":1.29,"y":-35},{"s":"B30","x":1.32,"y":-50},{"s":"B30","x":1.34,"y":-64.4},{"s":"B30","x":1.37,"y":-45},{"s":"B30","x":1.41,"y":-28},{"s":"B30","x":1.46,"y":-21.2},{"s":"B30","x":1.53,"y":-17.5},{"s":"B30","x":1.61,"y":-14.9},{"s":"B30","x":1.72,"y":-11.8},{"s":"B30","x":1.83,"y":-9.3},{"s":"B30","x":1.95,"y":-7.6},{"s":"B30","x":2.1,"y":-6.0},{"s":"B30","x":2.25,"y":-5.0},{"s":"B30","x":2.39,"y":-4.3},{"s":"B30","x":2.55,"y":-3.7},{"s":"B30","x":2.7,"y":-3.35},{"s":"B30","x":2.86,"y":-3.2},{"s":"B30","x":3.0,"y":-3.3},{"s":"B30","x":3.15,"y":-3.7},{"s":"B30","x":3.3,"y":-4.3},{"s":"B30","x":3.46,"y":-5.1},{"s":"B30","x":3.6,"y":-6.2},{"s":"B30","x":3.75,"y":-7.6},{"s":"B30","x":3.88,"y":-9.0},{"s":"B30","x":3.98,"y":-10.3},{"s":"B30","x":4.1,"y":-11.9},{"s":"B30","x":4.22,"y":-13.8},{"s":"B30","x":4.33,"y":-15.5},{"s":"B30","x":4.41,"y":-16.9},{"s":"B30","x":4.5,"y":-18.6},{"s":"B30","x":4.6,"y":-20.6},{"s":"B30","x":4.69,"y":-22.6},{"s":"B30","x":4.76,"y":-24.8},{"s":"B30","x":4.82,"y":-27.5},{"s":"B30","x":4.87,"y":-30},{"s":"B30","x":4.92,"y":-32.5},{"s":"B30","x":4.97,"y":-34.7},{"s":"B30","x":5.0,"y":-31},{"s":"B30","x":5.03,"y":-28.5},{"s":"B30","x":5.05,"y":-33},{"s":"B30","x":5.08,"y":-26.5},{"s":"B30","x":5.11,"y":-30},{"s":"B30","x":5.14,"y":-25.3},{"s":"B30","x":5.17,"y":-29},{"s":"B30","x":5.2,"y":-24.8},{"s":"B30","x":5.23,"y":-28.5},{"s":"B30","x":5.26,"y":-24.5},{"s":"B30","x":5.29,"y":-28.7},{"s":"B30","x":5.32,"y":-24.3},{"s":"B30","x":5.35,"y":-29},{"s":"B30","x":5.38,"y":-24.2},{"s":"B30","x":5.41,"y":-28.5},{"s":"B30","x":5.44,"y":-24.1},{"s":"B30","x":5.47,"y":-29.2},{"s":"B30","x":5.5,"y":-24},{"s":"B30","x":5.53,"y":-28.8},{"s":"B30","x":5.56,"y":-23.9},{"s":"B30","x":5.59,"y":-29},{"s":"B30","x":5.62,"y":-23.9},{"s":"B30","x":5.65,"y":-28.6},{"s":"B30","x":5.68,"y":-24},{"s":"B30","x":5.71,"y":-29.5},{"s":"B30","x":5.74,"y":-24},{"s":"B30","x":5.77,"y":-28.8},{"s":"B30","x":5.8,"y":-24.1},{"s":"B30","x":5.83,"y":-29.2},{"s":"B30","x":5.86,"y":-24.2},{"s":"B30","x":5.89,"y":-29},{"s":"B30","x":5.92,"y":-24.3},{"s":"B30","x":5.95,"y":-29.4},{"s":"B30","x":5.98,"y":-24.4},{"s":"B30","x":6.01,"y":-29.7},{"s":"B30","x":6.04,"y":-24.6},{"s":"B30","x":6.07,"y":-30},{"s":"B30","x":6.1,"y":-24.7},{"s":"B30","x":6.13,"y":-30.5},{"s":"B30","x":6.16,"y":-24.8},{"s":"B30","x":6.19,"y":-31},{"s":"B30","x":6.22,"y":-25},{"s":"B30","x":6.25,"y":-32},{"s":"B30","x":6.28,"y":-25.2},{"s":"B30","x":6.31,"y":-32.5},{"s":"B30","x":6.34,"y":-25.5},{"s":"B30","x":6.37,"y":-33},{"s":"B30","x":6.4,"y":-25.8},{"s":"B30","x":6.43,"y":-34},{"s":"B30","x":6.46,"y":-26},{"s":"B30","x":6.49,"y":-35.4},{"s":"B30","x":6.52,"y":-26.3},{"s":"B30","x":6.55,"y":-36},{"s":"B30","x":6.58,"y":-26.6},{"s":"B30","x":6.61,"y":-38},{"s":"B30","x":6.64,"y":-26.9},{"s":"B30","x":6.67,"y":-40},{"s":"B30","x":6.7,"y":-27.2},{"s":"B30","x":6.73,"y":-43},{"s":"B30","x":6.76,"y":-28},{"s":"B30","x":6.78,"y":-46},{"s":"B30","x":6.8,"y":-30},{"s":"B30","x":6.82,"y":-46.8},{"s":"B30","x":6.84,"y":-35}
]},
"encoding": {
  "x": {"field": "x", "type": "quantitative", "scale": {"domain": [-8, 8], "nice": false, "zero": false}, "axis": null},
  "y": {"field": "y", "type": "quantitative", "scale": {"domain": [-80, 10], "nice": false, "zero": false}, "axis": null},
  "color": {"field": "s", "type": "nominal", "scale": {"domain": ["E","B6","B15","B24","B30"], "range": ["#0072BD","#D95319","#EDB120","#7E2F8E","#77AC30"]}, "legend": {"title": null, "labelExpr": "{'E':'Element Pattern','B6':'Beam 6 (AZ=-1.6 deg)','B15':'Beam 15 (AZ=0 deg)','B24':'Beam 24 (AZ=1.6 deg)','B30':'Beam 30 (AZ=3.2 deg)'}[datum.value]"}},
  "strokeWidth": {"field": "s", "type": "nominal", "scale": {"type": "ordinal", "domain": ["E","B6","B15","B24","B30"], "range": [1.3, 3.5, 3.5, 3.5, 3.5]}, "legend": {"title": null, "labelExpr": "{'E':'Element Pattern','B6':'Beam 6 (AZ=-1.6 deg)','B15':'Beam 15 (AZ=0 deg)','B24':'Beam 24 (AZ=1.6 deg)','B30':'Beam 30 (AZ=3.2 deg)'}[datum.value]"}}
},
"layer": [
  {"transform": [{"filter": "datum.s === 'E'"}], "mark": {"type": "line", "strokeJoin": "round"},
   "encoding": {
     "x": {"field": "x", "type": "quantitative", "scale": {"domain": [-8, 8], "nice": false, "zero": false}, "axis": {"orient": "bottom", "values": [-8,-6,-4,-2,0,2,4,6,8], "labelExpr": "datum.value < 0 ? '-' + abs(datum.value) : '' + datum.value", "title": "Angle (deg)", "labelPadding": 19.5, "titleX": 371.5, "titleY": 41, "titleBaseline": "middle"}},
     "y": {"field": "y", "type": "quantitative", "scale": {"domain": [-80, 10], "nice": false, "zero": false}, "axis": {"orient": "left", "values": [-80,-70,-60,-50,-40,-30,-20,-10,0,10], "labelExpr": "datum.value < 0 ? '-' + abs(datum.value) : '' + datum.value", "title": "Power (dB)", "labelPadding": 15.5, "titleX": -50, "titleY": 306, "titleBaseline": "middle", "titleAngle": -90}}
   }},
  {"transform": [{"filter": "datum.s === 'B6'"}], "mark": {"type": "line", "strokeJoin": "round", "strokeCap": "round"}},
  {"transform": [{"filter": "datum.s === 'B15'"}], "mark": {"type": "line", "strokeJoin": "round", "strokeCap": "round"}},
  {"transform": [{"filter": "datum.s === 'B24'"}], "mark": {"type": "line", "strokeJoin": "round", "strokeCap": "round"}},
  {"transform": [{"filter": "datum.s === 'B30'"}], "mark": {"type": "line", "strokeJoin": "round", "strokeCap": "round"}},
  {"transform": [{"filter": "datum.s === 'E' && datum.x === 0"}], "mark": {"type": "point", "opacity": 0},
   "encoding": {
     "x": {"field": "x", "type": "quantitative", "scale": {"domain": [-8, 8], "nice": false, "zero": false}, "axis": {"orient": "top", "values": [-8,-6,-4,-2,0,2,4,6,8], "labels": false, "title": null, "domain": false}},
     "y": {"field": "y", "type": "quantitative", "scale": {"domain": [-80, 10], "nice": false, "zero": false}, "axis": {"orient": "right", "values": [-80,-70,-60,-50,-40,-30,-20,-10,0,10], "labels": false, "title": null, "domain": false}},
     "color": {"value": "transparent"},
     "strokeWidth": {"value": 0}
   }}
],
"resolve": {"axis": {"x": "independent", "y": "independent"}}
}
